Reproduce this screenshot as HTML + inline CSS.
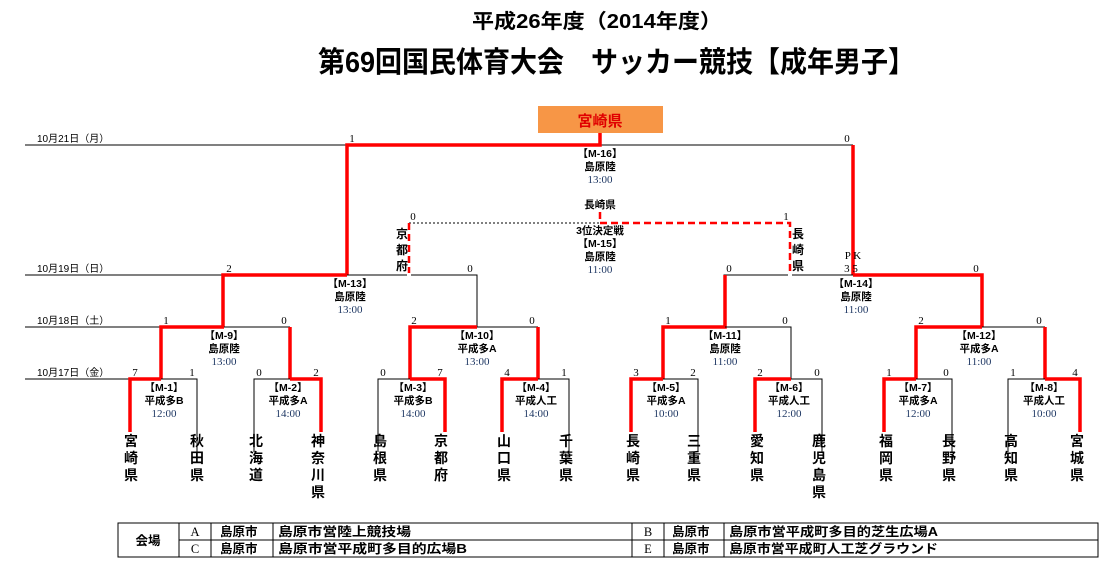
<!DOCTYPE html>
<html><head><meta charset="utf-8"><style>
html,body{margin:0;padding:0;background:#fff;width:1120px;height:576px;overflow:hidden}
svg{display:block;font-family:"Liberation Serif","Noto Serif CJK SC","Noto Sans CJK JP",serif}
.s{font-size:11px;fill:#000;text-anchor:middle}
.d{font-size:10px;fill:#000;font-family:"Liberation Sans","Noto Sans CJK JP",sans-serif}
.m{font-size:10.5px;fill:#000;text-anchor:middle;font-family:"Liberation Sans","Noto Sans CJK JP",sans-serif;font-weight:bold}
.t{font-size:11px;fill:#1f3864;text-anchor:middle}
.n{font-size:14px;font-weight:bold;fill:#000;text-anchor:middle;font-family:"Liberation Sans","Noto Sans CJK JP",sans-serif}
.b{stroke:#000;stroke-width:1;fill:none}
.r{stroke:#f00;stroke-width:3.5;fill:none}
</style></head><body>
<svg width="1120" height="576" viewBox="0 0 1120 576">
<text x="472" y="28" textLength="250" lengthAdjust="spacingAndGlyphs" font-size="20" font-weight="bold" font-family="Liberation Sans,Noto Sans CJK JP,sans-serif">平成26年度（2014年度）</text>
<text x="318" y="72" textLength="597" lengthAdjust="spacingAndGlyphs" font-size="29" font-weight="bold" font-family="Liberation Sans,Noto Sans CJK JP,sans-serif">第69回国民体育大会　サッカー競技【成年男子】</text>

<rect x="538" y="106" width="125" height="27" fill="#f79646"/>
<text x="600" y="126" text-anchor="middle" font-size="15" font-weight="bold" fill="#e00000" font-family="Liberation Sans,Noto Sans CJK JP,sans-serif">宮崎県</text>

<text class="d" x="37" y="142">10月21日（月）</text>
<text class="d" x="37" y="272">10月19日（日）</text>
<text class="d" x="37" y="324">10月18日（土）</text>
<text class="d" x="37" y="376">10月17日（金）</text>
<path class="b" d="M25 145H347M25 275H223M25 327H161M25 379H130"/>

<path class="b" d="M600 145H853"/>
<path class="r" d="M347 275V145H600V133"/>
<path class="r" d="M853 145V275"/>
<path class="b" d="M347 275H407M411 275H477V327M724 327V275H788M792 275H853"/>
<path class="r" d="M223 327V275H347"/>
<path class="r" d="M853 275H982V327"/>
<path d="M409 223H600" stroke="#000" stroke-width="1" stroke-dasharray="2,2"/>
<path d="M409 223V273" stroke="#f00" stroke-width="2.5" stroke-dasharray="7,4"/>
<path d="M600 212V223H790V273" stroke="#f00" stroke-width="2.5" fill="none" stroke-dasharray="7,4"/>
<path class="b" d="M224 327H290M477 327H538M663 327H791M982 327H1045"/>
<path class="r" d="M161 379V327H224"/>
<path class="r" d="M290 327V379"/>
<path class="r" d="M410 379V327H477"/>
<path class="r" d="M538 327V379"/>
<path class="r" d="M663 379V327H725V275"/>
<path class="b" d="M725 327H791V379"/>
<path class="r" d="M916 379V327H982"/>
<path class="r" d="M1045 327V379"/>
<path class="b" d="M161 379H197V452M254 452V379H290M378 452V379H410M538 379H569V452M663 379H698V452M791 379H822V452M916 379H952V452M1008 452V379H1045"/>
<path class="r" d="M130 432V379H161"/>
<path class="r" d="M290 379H321V432"/>
<path class="r" d="M410 379H445V432"/>
<path class="r" d="M502 432V379H538"/>
<path class="r" d="M631 432V379H663"/>
<path class="r" d="M755 432V379H791"/>
<path class="r" d="M884 432V379H916"/>
<path class="r" d="M1045 379H1080V432"/>

<g class="s">
<text x="352" y="142">1</text><text x="847" y="142">0</text>
<text x="413" y="220">0</text><text x="786" y="220">1</text>
<text x="229" y="272">2</text><text x="470" y="272">0</text><text x="729" y="272">0</text><text x="976" y="272">0</text>
<text x="853" y="259">P K</text><text x="851" y="272">3 5</text>
<text x="166" y="324">1</text><text x="284" y="324">0</text><text x="414" y="324">2</text><text x="532" y="324">0</text>
<text x="668" y="324">1</text><text x="785" y="324">0</text><text x="921" y="324">2</text><text x="1039" y="324">0</text>
<text x="135" y="376">7</text><text x="192" y="376">1</text><text x="259" y="376">0</text><text x="316" y="376">2</text>
<text x="383" y="376">0</text><text x="440" y="376">7</text><text x="507" y="376">4</text><text x="564" y="376">1</text>
<text x="636" y="376">3</text><text x="693" y="376">2</text><text x="760" y="376">2</text><text x="817" y="376">0</text>
<text x="889" y="376">1</text><text x="946" y="376">0</text><text x="1013" y="376">1</text><text x="1075" y="376">4</text>
</g>

<g>
<text class="m" x="600" y="157">【M-16】</text><text class="m" x="600" y="170">島原陸</text><text class="t" x="600" y="183">13:00</text>
<text class="m" x="600" y="208">長崎県</text>
<text class="m" x="600" y="234">3位決定戦</text><text class="m" x="600" y="247">【M-15】</text><text class="m" x="600" y="260">島原陸</text><text class="t" x="600" y="273">11:00</text>
<text class="m" x="350" y="287">【M-13】</text><text class="m" x="350" y="300">島原陸</text><text class="t" x="350" y="313">13:00</text>
<text class="m" x="856" y="287">【M-14】</text><text class="m" x="856" y="300">島原陸</text><text class="t" x="856" y="313">11:00</text>
<text class="m" x="224" y="339">【M-9】</text><text class="m" x="224" y="352">島原陸</text><text class="t" x="224" y="365">13:00</text>
<text class="m" x="477" y="339">【M-10】</text><text class="m" x="477" y="352">平成多A</text><text class="t" x="477" y="365">13:00</text>
<text class="m" x="725" y="339">【M-11】</text><text class="m" x="725" y="352">島原陸</text><text class="t" x="725" y="365">11:00</text>
<text class="m" x="979" y="339">【M-12】</text><text class="m" x="979" y="352">平成多A</text><text class="t" x="979" y="365">11:00</text>
<text class="m" x="164" y="391">【M-1】</text><text class="m" x="164" y="404">平成多B</text><text class="t" x="164" y="417">12:00</text>
<text class="m" x="288" y="391">【M-2】</text><text class="m" x="288" y="404">平成多A</text><text class="t" x="288" y="417">14:00</text>
<text class="m" x="413" y="391">【M-3】</text><text class="m" x="413" y="404">平成多B</text><text class="t" x="413" y="417">14:00</text>
<text class="m" x="536" y="391">【M-4】</text><text class="m" x="536" y="404">平成人工</text><text class="t" x="536" y="417">14:00</text>
<text class="m" x="666" y="391">【M-5】</text><text class="m" x="666" y="404">平成多A</text><text class="t" x="666" y="417">10:00</text>
<text class="m" x="789" y="391">【M-6】</text><text class="m" x="789" y="404">平成人工</text><text class="t" x="789" y="417">12:00</text>
<text class="m" x="918" y="391">【M-7】</text><text class="m" x="918" y="404">平成多A</text><text class="t" x="918" y="417">12:00</text>
<text class="m" x="1044" y="391">【M-8】</text><text class="m" x="1044" y="404">平成人工</text><text class="t" x="1044" y="417">10:00</text>
</g>

<g class="n" style="font-size:12px">
<text x="402" y="238">京</text><text x="402" y="254">都</text><text x="402" y="270">府</text>
<text x="798" y="238">長</text><text x="798" y="254">崎</text><text x="798" y="270">県</text>
</g>

<g class="n">
<text x="131" y="446">宮</text><text x="131" y="463">崎</text><text x="131" y="480">県</text>
<text x="197" y="446">秋</text><text x="197" y="463">田</text><text x="197" y="480">県</text>
<text x="256" y="446">北</text><text x="256" y="463">海</text><text x="256" y="480">道</text>
<text x="318" y="446">神</text><text x="318" y="463">奈</text><text x="318" y="480">川</text><text x="318" y="497">県</text>
<text x="380" y="446">島</text><text x="380" y="463">根</text><text x="380" y="480">県</text>
<text x="441" y="446">京</text><text x="441" y="463">都</text><text x="441" y="480">府</text>
<text x="504" y="446">山</text><text x="504" y="463">口</text><text x="504" y="480">県</text>
<text x="566" y="446">千</text><text x="566" y="463">葉</text><text x="566" y="480">県</text>
<text x="633" y="446">長</text><text x="633" y="463">崎</text><text x="633" y="480">県</text>
<text x="694" y="446">三</text><text x="694" y="463">重</text><text x="694" y="480">県</text>
<text x="757" y="446">愛</text><text x="757" y="463">知</text><text x="757" y="480">県</text>
<text x="819" y="446">鹿</text><text x="819" y="463">児</text><text x="819" y="480">島</text><text x="819" y="497">県</text>
<text x="886" y="446">福</text><text x="886" y="463">岡</text><text x="886" y="480">県</text>
<text x="949" y="446">長</text><text x="949" y="463">野</text><text x="949" y="480">県</text>
<text x="1011" y="446">高</text><text x="1011" y="463">知</text><text x="1011" y="480">県</text>
<text x="1077" y="446">宮</text><text x="1077" y="463">城</text><text x="1077" y="480">県</text>
</g>

<g stroke="#000" stroke-width="1" fill="none">
<rect x="118" y="523" width="980" height="34"/>
<path d="M179 540H1098M179 523V557M211 523V557M273 523V557M632 523V557M664 523V557M724 523V557"/>
</g>
<g font-size="12.5" font-weight="bold" font-family="Liberation Sans,Noto Sans CJK JP,sans-serif">
<text x="148" y="545" text-anchor="middle">会場</text>
<text x="195" y="536" text-anchor="middle" font-weight="normal" font-family="Liberation Serif,serif">A</text>
<text x="195" y="553" text-anchor="middle" font-weight="normal" font-family="Liberation Serif,serif">C</text>
<text x="220" y="536">島原市</text><text x="220" y="553">島原市</text>
<text x="278" y="536" textLength="133" lengthAdjust="spacingAndGlyphs">島原市営陸上競技場</text>
<text x="278" y="553" textLength="189" lengthAdjust="spacingAndGlyphs">島原市営平成町多目的広場B</text>
<text x="648" y="536" text-anchor="middle" font-weight="normal" font-family="Liberation Serif,serif">B</text>
<text x="648" y="553" text-anchor="middle" font-weight="normal" font-family="Liberation Serif,serif">E</text>
<text x="672" y="536">島原市</text><text x="672" y="553">島原市</text>
<text x="729" y="536" textLength="209" lengthAdjust="spacingAndGlyphs">島原市営平成町多目的芝生広場A</text>
<text x="729" y="553" textLength="209" lengthAdjust="spacingAndGlyphs">島原市営平成町人工芝グラウンド</text>
</g>
</svg>
</body></html>
